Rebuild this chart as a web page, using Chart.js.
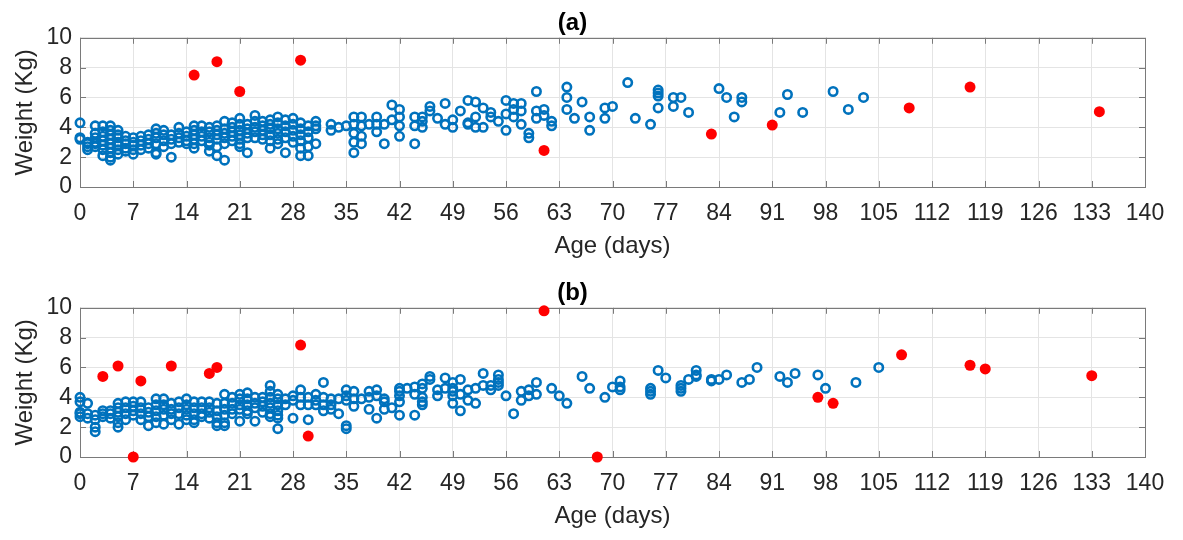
<!DOCTYPE html>
<html>
<head>
<meta charset="utf-8">
<script src="https://cdn.jsdelivr.net/npm/chart.js@4.4.1/dist/chart.umd.min.js"></script>
<style>
  body { margin: 0; background: #fff; }
  canvas { display: block; }
</style>
</head>
<body>
<canvas id="chartA" width="1183" height="270"></canvas>
<canvas id="chartB" width="1183" height="270"></canvas>
<script>
// tick labels
const xTicks = [0, 7, 14, 21, 28, 35, 42, 49, 56, 63, 70, 77, 84, 91, 98, 105, 112, 119, 126, 133, 140];
const yTicks = [0, 2, 4, 6, 8, 10];

// (a) normal points, grouped by age in days: [day, [weights]]
const aNormal = [
  [0, [4.3, 3.3, 3.2]], [1, [3.0, 2.9, 2.7, 2.5]], [2, [4.1, 3.6, 3.3, 3.0, 2.9, 2.7]],
  [3, [4.1, 3.7, 3.4, 3.1, 2.8, 2.5, 2.1]], [4, [4.1, 3.8, 3.5, 3.2, 2.9, 2.6, 2.3, 2.0, 1.8]],
  [5, [3.8, 3.5, 3.3, 3.0, 2.8, 2.5, 2.2]], [6, [3.4, 3.1, 2.9, 2.6, 2.4]], [7, [3.3, 3.0, 2.8, 2.5, 2.2]],
  [8, [3.4, 3.1, 2.8, 2.5]], [9, [3.5, 3.2, 2.9, 2.6]], [10, [3.9, 3.6, 3.3, 2.9, 2.3, 2.2]],
  [11, [3.8, 3.5, 3.1, 2.7]], [12, [3.5, 3.2, 2.9, 2.0]], [13, [4.0, 3.6, 3.3, 3.0]],
  [14, [3.7, 3.4, 3.1, 2.9]], [15, [4.1, 3.8, 3.5, 3.2, 2.9, 2.6]], [16, [4.1, 3.7, 3.4, 3.1]],
  [17, [4.0, 3.7, 3.3, 3.0, 2.8, 2.4]], [18, [4.1, 3.8, 3.5, 3.2, 2.7, 2.1]], [19, [4.4, 3.9, 3.6, 3.3, 2.9, 1.8]],
  [20, [4.3, 4.0, 3.7, 3.4, 3.1]], [21, [4.6, 4.2, 3.8, 3.5, 3.2, 2.9, 2.7]], [22, [4.2, 3.9, 3.6, 3.3, 2.3]],
  [23, [4.8, 4.4, 4.0, 3.7, 3.3]], [24, [4.4, 4.1, 3.8, 3.5, 3.2]], [25, [4.5, 4.2, 3.9, 3.5, 3.1, 2.6]],
  [26, [4.7, 4.3, 3.9, 3.6, 3.2, 2.9]], [27, [4.5, 4.1, 3.7, 3.3, 2.3]], [28, [4.6, 4.2, 3.8, 3.4, 3.0]],
  [29, [4.3, 3.9, 3.5, 3.1, 2.6, 2.1]], [30, [4.1, 3.7, 3.3, 2.7, 2.1]], [31, [4.4, 4.1, 3.9, 2.9]],
  [33, [4.2, 3.8]], [34, [4.0]], [35, [4.1]], [36, [4.7, 4.2, 3.6, 3.0, 2.3]], [37, [4.7, 4.1, 3.4, 2.9]],
  [38, [4.2]], [39, [4.7, 4.2, 3.7]], [40, [4.2, 2.9]], [41, [5.5, 4.5]], [42, [5.2, 4.7, 4.1, 3.4]],
  [44, [4.7, 4.1, 2.9]], [45, [4.7, 4.4, 4.0]], [46, [5.4, 5.1]], [47, [4.6]], [48, [5.6, 4.2]],
  [49, [4.5, 4.0]], [50, [5.1]], [51, [5.8, 4.3, 4.2]], [52, [5.7, 4.7, 4.0]], [53, [5.3, 4.0]],
  [54, [5.0, 4.7]], [55, [4.4]], [56, [5.8, 4.9, 3.8]], [57, [5.6, 5.2, 4.7]], [58, [5.6, 5.1, 4.2]],
  [59, [3.6, 3.3]], [60, [6.4, 5.1, 4.6]], [61, [5.2, 4.8]], [62, [4.4, 4.1]], [64, [6.7, 6.0, 5.2]],
  [65, [4.6]], [66, [5.7]], [67, [4.7, 3.8]], [69, [5.3, 4.6]], [70, [5.4]], [72, [7.0]], [73, [4.6]],
  [75, [4.2]], [76, [6.5, 6.3, 6.1, 5.3]], [78, [6.0, 5.4]], [79, [6.0]], [80, [5.0]], [84, [6.6]],
  [85, [6.0]], [86, [4.7]], [87, [6.0, 5.7]], [92, [5.0]], [93, [6.2]], [95, [5.0]], [99, [6.4]],
  [101, [5.2]], [103, [6.0]]
];
// (a) outliers: [day, weight]
const aOutliers = [[15, 7.5], [18, 8.4], [21, 6.4], [29, 8.5], [61, 2.45], [83, 3.55], [91, 4.15], [109, 5.3], [117, 6.7], [134, 5.05]];

// (b) normal points
const bNormal = [
  [0, [4.0, 3.7, 3.0, 2.9, 2.7]], [1, [3.6, 2.9, 2.6]], [2, [2.8, 2.5, 2.0, 1.7]], [3, [3.1, 2.9, 2.7]],
  [4, [3.1, 2.9, 2.6]], [5, [3.6, 3.3, 3.0, 2.7, 2.3, 2.0]], [6, [3.7, 3.3, 2.9, 2.5]], [7, [3.7, 3.4, 3.1, 2.8]],
  [8, [3.7, 3.3, 2.9, 2.5]], [9, [3.3, 3.0, 2.7, 2.1]], [10, [3.9, 3.5, 3.1, 2.7, 2.3]], [11, [3.9, 3.5, 3.2, 2.8, 2.2]],
  [12, [3.6, 3.2, 2.9, 2.5]], [13, [3.7, 3.3, 2.9, 2.2]], [14, [3.9, 3.5, 3.2, 2.8, 2.5]], [15, [3.7, 3.3, 2.9, 2.5, 2.3]],
  [16, [3.7, 3.3, 2.9, 2.7]], [17, [3.7, 3.3, 3.0, 2.6]], [18, [3.6, 3.1, 2.7, 2.3, 2.1]], [19, [4.2, 3.6, 3.2, 2.8, 2.3, 2.1]],
  [20, [4.0, 3.6, 3.2, 2.9]], [21, [4.2, 3.9, 3.5, 3.2, 2.4]], [22, [4.3, 3.9, 3.5, 3.1, 2.9]], [23, [4.0, 3.6, 3.3, 2.4]],
  [24, [4.0, 3.7, 3.4, 3.0]], [25, [4.8, 4.4, 4.0, 3.6, 3.3, 2.9, 2.7]], [26, [4.2, 3.9, 3.5, 3.1, 2.8, 2.6, 1.9]],
  [27, [3.9, 3.5]], [28, [4.1, 3.8, 2.6]], [29, [4.5, 4.0, 3.5]], [30, [4.0, 3.5, 2.5]], [31, [4.2, 3.8, 3.5]],
  [32, [5.0, 4.0, 3.5, 3.1]], [33, [3.9, 3.5, 3.2]], [34, [3.9, 2.9]], [35, [4.5, 4.1, 3.8, 2.1, 1.9]],
  [36, [4.4, 3.9, 3.4]], [37, [3.9]], [38, [4.4, 4.0, 3.2]], [39, [4.5, 4.1, 2.6]], [40, [3.9, 3.7, 3.2]],
  [41, [3.3]], [42, [4.6, 4.4, 4.1, 3.7, 2.8]], [43, [4.6]], [44, [4.7, 4.2, 2.8]], [45, [4.9, 4.6, 4.0, 3.7, 3.5]],
  [46, [5.4, 5.2]], [47, [4.5, 4.1]], [48, [5.3, 4.6]], [49, [5.0, 4.6, 4.4, 4.1, 3.6]], [50, [5.2, 4.2, 3.1]],
  [51, [4.5, 3.8]], [52, [4.6, 3.6]], [53, [5.6, 4.8]], [54, [4.8, 4.5]], [55, [5.5, 5.2, 5.0, 4.8]],
  [56, [4.1]], [57, [2.9]], [58, [4.4, 3.8]], [59, [4.5, 4.1]], [60, [5.0, 4.2]], [62, [4.6]], [63, [4.1]],
  [64, [3.6]], [66, [5.4]], [67, [4.6]], [69, [4.0]], [70, [4.7]], [71, [5.1, 4.7, 4.5]], [75, [4.6, 4.4, 4.2]],
  [76, [5.8]], [77, [5.3]], [79, [4.8, 4.6, 4.4]], [80, [5.2]], [81, [5.8, 5.5, 5.4]], [83, [5.2, 5.1]],
  [84, [5.2]], [85, [5.5]], [87, [5.0]], [88, [5.2]], [89, [6.0]], [92, [5.4]], [93, [5.0]], [94, [5.6]],
  [97, [5.5]], [98, [4.6]], [102, [5.0]], [105, [6.0]]
];
// (b) outliers
const bOutliers = [[3, 5.4], [5, 6.1], [7, 0], [8, 5.1], [12, 6.1], [17, 5.6], [18, 6.0], [29, 7.5], [30, 1.4],
  [61, 9.8], [68, 0], [97, 4.0], [99, 3.6], [108, 6.85], [117, 6.15], [119, 5.9], [133, 5.45]];

const FONT = "'Liberation Sans', Arial, Helvetica, sans-serif";
const TEXT = '#262626';

function toPoints(byDay) {
  const pts = [];
  byDay.forEach(([day, weights]) => weights.forEach(w => pts.push({ x: day, y: w })));
  return pts;
}

// box around plot area with inward tick marks, like MATLAB
const boxTicks = {
  id: 'boxTicks',
  beforeDatasetsDraw(chart) {
    const { ctx, chartArea: a, scales: { x, y } } = chart;
    const len = 6;
    ctx.save();
    ctx.strokeStyle = '#7a7a7a';
    ctx.lineWidth = 1;
    ctx.beginPath();
    xTicks.forEach(v => {
      const px = Math.round(x.getPixelForValue(v)) + 0.5;
      ctx.moveTo(px, a.bottom); ctx.lineTo(px, a.bottom - len);
      ctx.moveTo(px, a.top); ctx.lineTo(px, a.top + len);
    });
    yTicks.forEach(v => {
      const py = Math.round(y.getPixelForValue(v)) + 0.5;
      ctx.moveTo(a.left, py); ctx.lineTo(a.left + len, py);
      ctx.moveTo(a.right, py); ctx.lineTo(a.right - len, py);
    });
    ctx.stroke();
    ctx.strokeRect(Math.round(a.left) + 0.5, Math.round(a.top) + 0.5,
      Math.round(a.right - a.left), Math.round(a.bottom - a.top));
    ctx.restore();
  }
};

function makeChart(id, title, normal, outliers) {
  return new Chart(document.getElementById(id), {
    type: 'scatter',
    data: {
      datasets: [{
        data: outliers.map(([d, w]) => ({ x: d, y: w })),
        backgroundColor: '#ff0000',
        borderWidth: 0,
        pointRadius: 5.5,
        clip: false
      }, {
        data: toPoints(normal),
        backgroundColor: 'rgba(0,0,0,0)',
        borderColor: '#0072bd',
        borderWidth: 2.6,
        pointRadius: 4.2,
        clip: false
      }]
    },
    options: {
      responsive: false,
      animation: false,
      layout: { padding: { left: 0, right: 38, top: 0, bottom: 0 } },
      plugins: {
        legend: { display: false },
        tooltip: { enabled: false },
        title: {
          display: true, text: title, color: '#000',
          font: { family: FONT, size: 24, weight: 'bold' },
          padding: { top: 9, bottom: 0 }
        }
      },
      scales: {
        x: {
          type: 'linear', min: 0, max: 140,
          afterBuildTicks: s => { s.ticks = xTicks.map(v => ({ value: v })); },
          ticks: { color: TEXT, font: { family: FONT, size: 23 }, padding: 13, maxRotation: 0, autoSkip: false },
          grid: { color: '#e4e4e4', drawTicks: false },
          border: { display: false },
          title: { display: true, text: 'Age (days)', color: TEXT, font: { family: FONT, size: 24 }, padding: { top: 0, bottom: 9 } },
          afterFit: s => { s.height = 83; }
        },
        y: {
          type: 'linear', min: 0, max: 10,
          afterBuildTicks: s => { s.ticks = yTicks.map(v => ({ value: v })); },
          ticks: { color: TEXT, font: { family: FONT, size: 23 }, padding: 8, autoSkip: false },
          grid: { color: '#e4e4e4', drawTicks: false },
          border: { display: false },
          title: { display: true, text: 'Weight (Kg)', color: TEXT, font: { family: FONT, size: 24 }, padding: { top: 11, bottom: 0 } },
          afterFit: s => { s.width = 80; }
        }
      }
    },
    plugins: [boxTicks]
  });
}

makeChart('chartA', '(a)', aNormal, aOutliers);
makeChart('chartB', '(b)', bNormal, bOutliers);
</script>
</body>
</html>
